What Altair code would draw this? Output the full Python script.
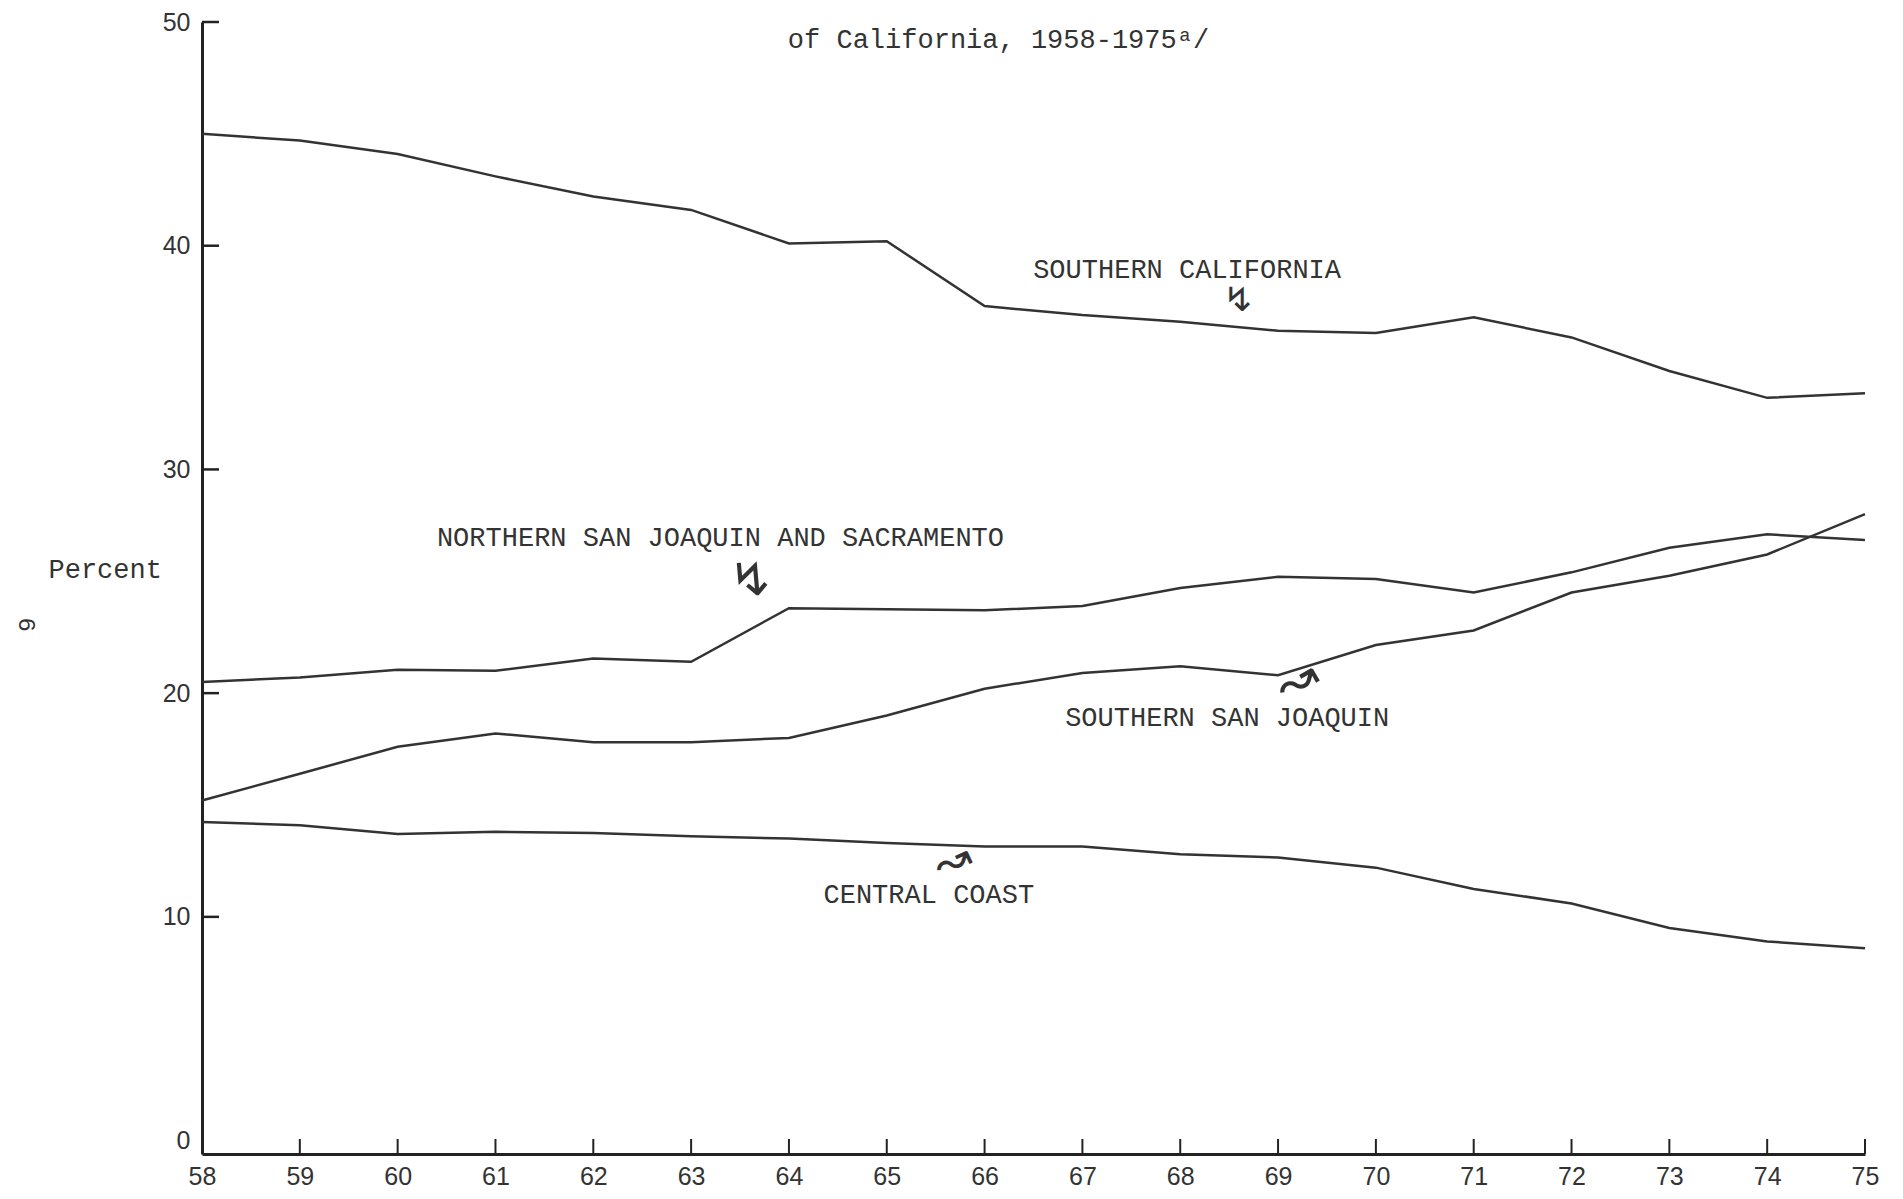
import altair as alt
import pandas as pd

# ---- data ----
years = list(range(58, 76))
southern_california = [45.0, 44.7, 44.1, 43.1, 42.2, 41.6, 40.1, 40.2, 37.3, 36.9,
                       36.6, 36.2, 36.1, 36.8, 35.9, 34.4, 33.2, 33.4]
northern_sj_sac = [20.5, 20.7, 21.05, 21.0, 21.55, 21.4, 23.8, 23.75, 23.7, 23.9,
                   24.7, 25.2, 25.1, 24.5, 25.4, 26.5, 27.1, 26.85]
southern_sj = [15.2, 16.4, 17.6, 18.2, 17.8, 17.8, 18.0, 19.0, 20.2, 20.9,
               21.2, 20.8, 22.15, 22.8, 24.5, 25.25, 26.2, 28.0]
central_coast = [14.24, 14.1, 13.7, 13.8, 13.75, 13.6, 13.5, 13.3, 13.15, 13.15,
                 12.8, 12.65, 12.2, 11.25, 10.6, 9.5, 8.9, 8.6]
series_names = ["Southern California", "Northern San Joaquin and Sacramento",
                "Southern San Joaquin", "Central Coast"]
y_ticks = [0, 10, 20, 30, 40, 50]

label_texts = ["SOUTHERN CALIFORNIA", "NORTHERN SAN JOAQUIN AND SACRAMENTO",
               "SOUTHERN SAN JOAQUIN", "CENTRAL COAST"]
label_years = [68.07, 63.30, 68.48, 65.43]
label_values = [38.93, 26.92, 18.89, 10.98]

arrow_glyphs = ["↯", "↯", "↝", "↝"]
arrow_years = [68.6, 63.62, 69.2, 65.68]
arrow_values = [37.55, 25.0, 20.5, 12.45]
arrow_sizes = [36, 50, 50, 44]
arrow_angles = [350, 345, 330, 335]

title_text = "of California, 1958-1975ᵃ/"

# ---- build tables ----
rows = []
for name, vals in zip(series_names, [southern_california, northern_sj_sac,
                                     southern_sj, central_coast]):
    for yr, v in zip(years, vals):
        rows.append({"series": name, "year": yr, "value": v})
lines_df = pd.DataFrame(rows)
labels_df = pd.DataFrame({"year": label_years, "value": label_values, "text": label_texts})
arrows_df = pd.DataFrame({"year": arrow_years, "value": arrow_values, "glyph": arrow_glyphs,
                          "size": arrow_sizes, "angle": arrow_angles})
xticks_df = pd.DataFrame({"year": years[1:]})
yticks_df = pd.DataFrame({"value": y_ticks[1:]})
page_df = pd.DataFrame({"year": [56.2], "value": [23.06], "text": ["6"]})

W, H = 1663, 1132
INK = "#333333"
MONO = "Liberation Mono"
SANS = "Liberation Sans"

xscale = alt.Scale(domain=[58, 75], nice=False, zero=False)
yscale = alt.Scale(domain=[-0.6, 50], nice=False, zero=False)

x_axis = alt.Axis(values=years, format="d", ticks=False, grid=False, domainColor="#222",
                  domainWidth=3, labelFont=SANS, labelFontSize=25, labelColor=INK,
                  labelPadding=10, title=None, labelFlush=False)
y_axis = alt.Axis(values=y_ticks, format="d", ticks=False, grid=False, domainColor="#222",
                  domainWidth=3, labelFont=SANS, labelFontSize=25, labelColor=INK,
                  labelPadding=12, title="Percent", titleAngle=0, titleAlign="left",
                  titleBaseline="middle", titleX=-154, titleY=547, titleFont=MONO,
                  titleFontSize=27, titleFontWeight="normal", titleColor=INK)

base = alt.Chart(lines_df)

lines = base.mark_line(color=INK, strokeWidth=2.5).encode(
    x=alt.X("year:Q", scale=xscale, axis=x_axis),
    y=alt.Y("value:Q", scale=yscale, axis=y_axis),
    detail="series:N",
)

xticks = alt.Chart(xticks_df).mark_rule(color="#222", strokeWidth=2).encode(
    x=alt.X("year:Q", scale=xscale),
    y=alt.value(H),
    y2=alt.value(H - 15),
)

yticks = alt.Chart(yticks_df).mark_rule(color="#222", strokeWidth=2.5).encode(
    y=alt.Y("value:Q", scale=yscale),
    x=alt.value(0),
    x2=alt.value(17),
)

labels = alt.Chart(labels_df).mark_text(font=MONO, fontSize=27, color=INK,
                                        align="center", baseline="middle").encode(
    x=alt.X("year:Q", scale=xscale),
    y=alt.Y("value:Q", scale=yscale),
    text="text:N",
)

arrows = alt.Chart(arrows_df).mark_text(font="DejaVu Sans", color=INK,
                                        align="center", baseline="middle").encode(
    x=alt.X("year:Q", scale=xscale),
    y=alt.Y("value:Q", scale=yscale),
    text="glyph:N",
    size=alt.Size("size:Q", scale=None, legend=None),
    angle=alt.Angle("angle:Q", scale=None),
)

page = alt.Chart(page_df).mark_text(font=MONO, fontSize=24, color=INK, angle=90,
                                    align="center", baseline="middle").encode(
    x=alt.X("year:Q", scale=xscale),
    y=alt.Y("value:Q", scale=yscale),
    text="text:N",
)

chart = alt.layer(lines, xticks, yticks, labels, arrows, page).properties(
    width=W,
    height=H,
    background="white",
    title=alt.TitleParams(text=title_text, font=MONO, fontSize=27, fontWeight="normal",
                          color=INK, anchor="middle", offset=-44, dx=-35),
    autosize=alt.AutoSizeParams(type="none"),
    padding={"left": 194, "top": 14, "right": 30, "bottom": 37},
).configure_view(stroke=None)

chart.save("out.html", embed_options={"renderer": "svg", "actions": False})
